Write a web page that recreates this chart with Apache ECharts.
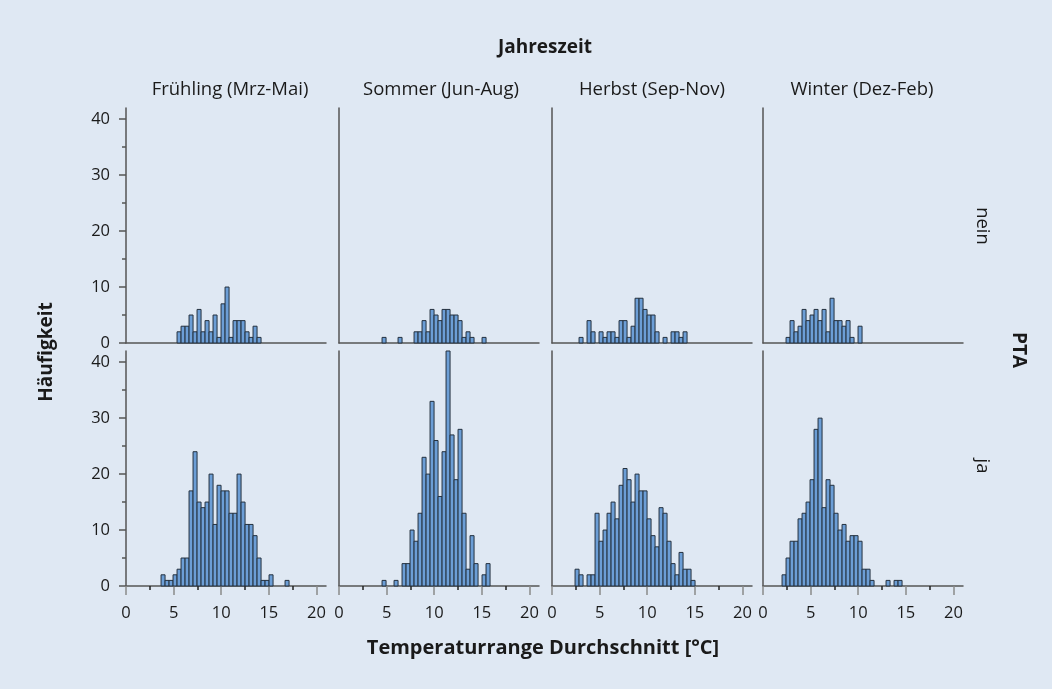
<!DOCTYPE html>
<html>
<head>
<meta charset="utf-8">
<script src="https://cdn.jsdelivr.net/npm/echarts@6/dist/echarts.min.js"></script>
<style>
html, body { margin: 0; padding: 0; background: #dfe8f3; }
#chart { width: 1052px; height: 689px; }
</style>
</head>
<body>
<div id="chart"></div>
<script>
// Histogramme: gemeinsame Klassen ab 2,0 °C, Klassenbreite 0,42 °C
const binStart = 2.0
const binWidth = 0.42
const seasons = ['Frühling (Mrz-Mai)', 'Sommer (Jun-Aug)', 'Herbst (Sep-Nov)', 'Winter (Dez-Feb)']
const rows = ['nein', 'ja']
const xTicks = [0, 5, 10, 15, 20]
const yTicks = [0, 10, 20, 30, 40]

// Häufigkeiten je Klasse (Index 0 = 2,0 °C)
const fruehlingNein = [0, 0, 0, 0, 0, 0, 0, 0, 2, 3, 3, 5, 2, 6, 2, 4, 2, 5, 1, 7, 10, 1, 4, 4, 4, 2, 1, 3, 1]
const sommerNein = [0, 0, 0, 0, 0, 0, 1, 0, 0, 0, 1, 0, 0, 0, 2, 2, 4, 2, 6, 5, 4, 6, 6, 5, 5, 4, 1, 2, 1, 0, 0, 1]
const herbstNein = [0, 0, 1, 0, 4, 2, 0, 2, 1, 2, 2, 1, 4, 4, 1, 3, 8, 8, 6, 5, 5, 2, 0, 1, 0, 2, 2, 1, 2]
const winterNein = [0, 1, 4, 2, 3, 6, 4, 5, 6, 4, 6, 2, 8, 4, 4, 3, 4, 1, 0, 3]
const fruehlingJa = [0, 0, 0, 0, 2, 1, 1, 2, 3, 5, 5, 17, 24, 15, 14, 15, 20, 11, 18, 17, 17, 13, 13, 20, 15, 11, 11, 9, 5, 1, 1, 2, 0, 0, 0, 1]
const sommerJa = [0, 0, 0, 0, 0, 0, 1, 0, 0, 1, 0, 4, 4, 10, 8, 13, 23, 20, 33, 26, 16, 24, 42, 27, 19, 28, 13, 3, 9, 4, 0, 2, 4]
const herbstJa = [0, 3, 2, 0, 2, 2, 13, 8, 10, 13, 15, 12, 18, 21, 19, 15, 20, 17, 17, 12, 9, 7, 14, 13, 8, 4, 2, 6, 3, 3, 1]
const winterJa = [2, 5, 8, 8, 12, 13, 15, 19, 28, 30, 14, 19, 18, 13, 10, 11, 8, 9, 9, 8, 3, 3, 1, 0, 0, 0, 1, 0, 1, 1]

const panels = [
	[fruehlingNein, sommerNein, herbstNein, winterNein],
	[fruehlingJa, sommerJa, herbstJa, winterJa]
]

const colLeft = [126, 339, 552, 763]
const rowTop = [108, 351]
const font = '"Open Sans", "Noto Sans", sans-serif'
const axisColor = '#555'

const toBins = counts => counts
	.map((c, i) => [binStart + i * binWidth, binStart + (i + 1) * binWidth, c])
	.filter(d => d[2] > 0)

const renderBin = (params, api) => {
	const top = api.coord([api.value(0), api.value(2)])
	const base = api.coord([api.value(1), 0])
	return {
		type: 'rect',
		shape: { x: top[0], y: top[1], width: base[0] - top[0], height: base[1] - top[1] },
		style: { fill: '#6c9ed6', stroke: '#24313f', lineWidth: 1 }
	}
}

const grid = [], xAxis = [], yAxis = [], series = []
rows.forEach((row, r) => {
	seasons.forEach((season, c) => {
		const idx = grid.length
		const bottom = r === 1
		const first = c === 0
		grid.push({ left: colLeft[c], top: rowTop[r], width: 200, height: 235 })
		xAxis.push({
			type: 'value', gridIndex: idx, min: 0, max: 21, interval: 5,
			axisLine: { show: true, onZero: false, lineStyle: { color: axisColor, width: 1.5 } },
			axisTick: { show: bottom, length: 9, customValues: xTicks, lineStyle: { color: '#8a8a8a', width: 1.5 } },
			minorTick: { show: bottom, splitNumber: 2, length: 4, lineStyle: { color: '#222', width: 1.5 } },
			axisLabel: { show: bottom, customValues: xTicks, margin: 19, color: '#1a1a1a', fontSize: 16.5, fontFamily: font },
			splitLine: { show: false }
		})
		yAxis.push({
			type: 'value', gridIndex: idx, min: 0, max: 42, interval: 10,
			axisLine: { show: true, lineStyle: { color: axisColor, width: 1.5 } },
			axisTick: { show: first, length: 7, customValues: yTicks, lineStyle: { color: axisColor, width: 1.5 } },
			minorTick: { show: first, splitNumber: 2, length: 4, lineStyle: { color: axisColor, width: 1.5 } },
			axisLabel: { show: first, customValues: yTicks, margin: 16, color: '#1a1a1a', fontSize: 16.5, fontFamily: font },
			splitLine: { show: false }
		})
		series.push({
			type: 'custom', name: season + ' / ' + row,
			xAxisIndex: idx, yAxisIndex: idx,
			renderItem: renderBin,
			encode: { x: [0, 1], y: 2 },
			data: toBins(panels[r][c])
		})
	})
})

const headerX = [230, 441, 652, 862]
const text = (x, y, str, opt) => Object.assign({
	type: 'text', x: x, y: y,
	style: Object.assign({ text: str, fill: '#1a1a1a', font: '18.5px ' + font, align: 'center', verticalAlign: 'middle' }, opt && opt.style)
}, opt && opt.rotation !== undefined ? { rotation: opt.rotation } : {})

const graphic = [
	text(545, 48, 'Jahreszeit', { style: { font: 'bold 19px ' + font } }),
	text(543, 648, 'Temperaturrange Durchschnitt [°C]', { style: { font: 'bold 20px ' + font } }),
	text(47, 352, 'Häufigkeit', { rotation: Math.PI / 2, style: { font: 'bold 19px ' + font } }),
	text(1018, 350, 'PTA', { rotation: -Math.PI / 2, style: { font: 'bold 19px ' + font } }),
	text(982, 226, rows[0], { rotation: -Math.PI / 2 }),
	text(982, 466, rows[1], { rotation: -Math.PI / 2 })
].concat(seasons.map((s, i) => text(headerX[i], 90, s)))

echarts.init(document.getElementById('chart')).setOption({
	backgroundColor: '#dfe8f3',
	animation: false,
	grid: grid,
	xAxis: xAxis,
	yAxis: yAxis,
	series: series,
	graphic: graphic
})
</script>
</body>
</html>
